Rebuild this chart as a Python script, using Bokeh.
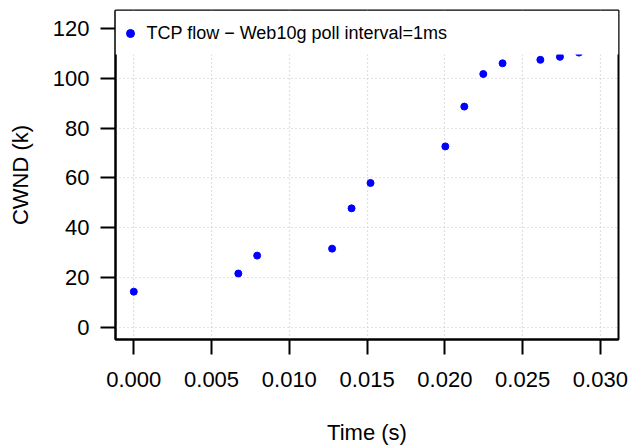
from bokeh.plotting import figure
from bokeh.models import FixedTicker, Range1d, Legend, LegendItem, BoxAnnotation
from bokeh.embed import file_html
from bokeh.resources import INLINE

# data
time_s = [0.0000, 0.00672, 0.00793, 0.01275, 0.01400, 0.01522, 0.02003,
          0.02125, 0.02247, 0.02371, 0.02614, 0.02740, 0.02862]
cwnd_k = [14.3, 21.6, 28.8, 31.6, 47.8, 58.0, 72.7,
          88.7, 101.8, 106.1, 107.5, 108.7, 110.4]
x_ticks = [0.000, 0.005, 0.010, 0.015, 0.020, 0.025, 0.030]
y_ticks = [0, 20, 40, 60, 80, 100, 120]
x_title = "Time (s)"
y_title = "CWND (k)"
series_label = "TCP flow \u2212 Web10g poll interval=1ms"
legend_band_bottom = 109.6   # the legend's white box hides everything above this level

FONT = "Liberation Sans"
X_START, X_END = -0.001177, 0.031164

p = figure(width=630, height=447, output_backend="svg", toolbar_location=None,
           min_border_left=115, min_border_top=10, min_border_right=12, min_border_bottom=107,
           x_range=Range1d(X_START, X_END), y_range=Range1d(-4.93, 127.33))

p.background_fill_color = "white"
p.border_fill_color = "white"
p.outline_line_color = "black"
p.outline_line_width = 2
p.outline_line_alpha = 1.0

r = p.scatter(time_s, cwnd_k, size=7, color="#0000FF", line_color="#0000FF")

for ax, ticks in ((p.xaxis, x_ticks), (p.yaxis, y_ticks)):
    ax.ticker = FixedTicker(ticks=ticks)
    ax.axis_line_color = "black"
    ax.axis_line_width = 2
    ax.major_tick_line_color = "black"
    ax.major_tick_line_width = 2
    ax.major_tick_out = 15
    ax.major_tick_in = 0
    ax.minor_tick_line_color = None
    ax.major_label_text_font = FONT
    ax.major_label_text_font_size = "22px"
    ax.major_label_text_color = "black"
    ax.axis_label_text_font = FONT
    ax.axis_label_text_font_size = "22px"
    ax.axis_label_text_font_style = "normal"
    ax.axis_label_text_color = "black"

p.xaxis.major_label_overrides = {t: f"{t:.3f}" for t in x_ticks}
p.xaxis.axis_label = x_title
p.yaxis.axis_label = y_title
p.xaxis.major_label_standoff = 17
p.xaxis.axis_label_standoff = 30
p.yaxis.major_label_standoff = 11
p.yaxis.axis_label_standoff = 17

for g in (p.xgrid, p.ygrid):
    g.grid_line_color = "#c4c4c4"
    g.grid_line_width = 1.2
    g.grid_line_dash = "1 3"
p.xgrid.ticker = FixedTicker(ticks=x_ticks)
p.ygrid.ticker = FixedTicker(ticks=y_ticks)

band = BoxAnnotation(bottom=legend_band_bottom, fill_color="white", fill_alpha=1.0,
                     line_color=None)
p.add_layout(band)

legend = Legend(items=[LegendItem(label=series_label, renderers=[r])],
                location=(4.5, 295.5), margin=0, padding=5,
                glyph_width=20, glyph_height=20, label_standoff=7,
                label_text_font=FONT, label_text_font_size="18px",
                label_text_color="black",
                background_fill_alpha=0.0, border_line_color=None)
p.add_layout(legend)

open("out.html", "w").write(file_html(p, INLINE))
